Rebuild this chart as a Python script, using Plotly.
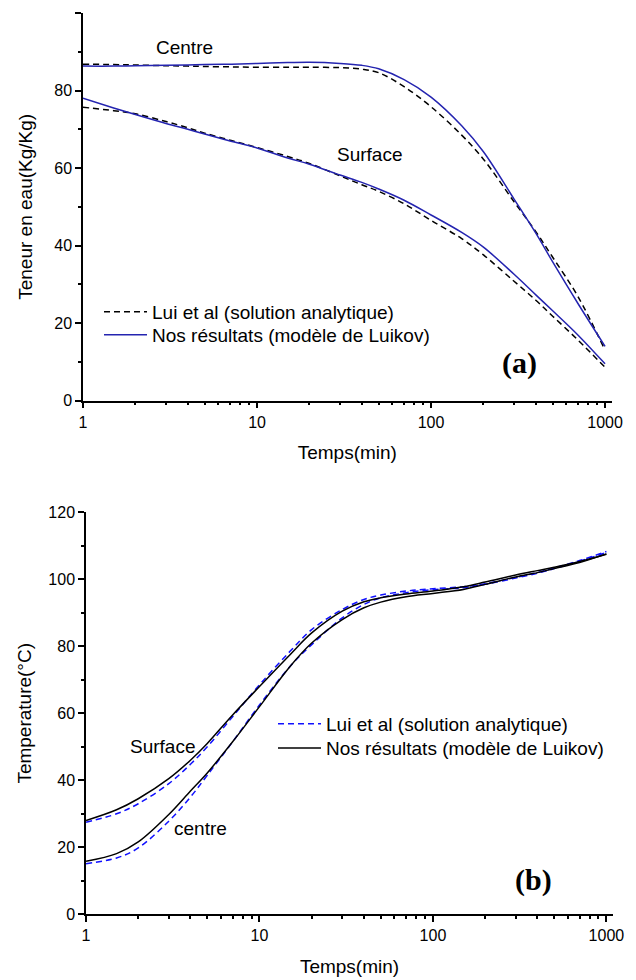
import plotly.graph_objects as go

# ---------------- data ----------------
time_min = [1, 1.5, 2, 3, 4, 5, 7, 10, 15, 20, 30, 40, 50, 70, 100, 150, 200, 300, 400, 500, 700, 1000]

# (a) moisture content (Kg/Kg)
a_centre_lui = [86.8, 86.7, 86.6, 86.4, 86.3, 86.2, 86.1, 86.0, 86.0, 86.0, 85.9, 85.5, 84.6, 81.0, 75.8, 68.5, 62.3, 51.3, 43.6, 37.0, 26.8, 13.0]
a_centre_nos = [86.3, 86.3, 86.4, 86.5, 86.6, 86.7, 86.8, 87.0, 87.2, 87.3, 87.0, 86.5, 85.6, 82.8, 78.3, 70.9, 64.2, 52.0, 43.2, 35.8, 25.0, 14.0]
a_surface_lui = [75.7, 74.8, 74.0, 72.0, 70.4, 69.0, 67.2, 65.3, 63.0, 61.2, 58.0, 55.7, 54.0, 50.8, 46.5, 41.8, 37.6, 30.8, 25.9, 21.8, 15.6, 8.6]
a_surface_nos = [78.0, 75.5, 73.8, 71.5, 70.0, 68.8, 67.0, 65.2, 62.6, 61.0, 58.2, 56.3, 54.6, 51.7, 47.9, 43.4, 39.6, 32.6, 27.3, 23.2, 16.9, 9.5]

# (b) temperature (°C)
b_surface_lui = [27.5, 30.0, 33.0, 39.0, 44.8, 50.0, 59.0, 68.5, 78.5, 85.0, 91.0, 94.0, 95.3, 96.5, 97.2, 97.8, 98.7, 100.6, 102.0, 103.4, 105.6, 108.3]
b_surface_nos = [28.0, 31.2, 34.5, 40.5, 46.0, 51.0, 59.5, 68.0, 77.5, 84.0, 90.5, 93.3, 94.5, 95.6, 96.5, 97.8, 99.2, 101.3, 102.6, 103.6, 105.3, 107.5]
b_centre_lui = [15.1, 16.8, 19.8, 27.8, 35.0, 41.5, 51.5, 62.5, 74.0, 80.5, 88.5, 92.5, 94.5, 96.0, 96.9, 97.5, 98.5, 100.4, 101.8, 103.2, 105.4, 108.0]
b_centre_nos = [15.8, 18.1, 21.6, 29.8, 36.8, 42.2, 51.5, 62.0, 74.0, 81.0, 88.0, 91.5, 93.2, 94.8, 95.8, 97.0, 98.5, 100.7, 102.0, 103.2, 105.0, 107.6]

name_lui = "Lui et al (solution analytique)"
name_nos = "Nos résultats (modèle de Luikov)"

x_title = "Temps(min)"
ya_title = "Teneur en eau(Kg/Kg)"
yb_title = "Temperature(°C)"

# ---------------- figure ----------------
FONT = "Arial, Liberation Sans, sans-serif"
SERIF = "Times New Roman, Liberation Serif, serif"
BLACK = "#000000"
BLUE_A = "#2424b0"
BLUE_B = "#1010ff"
DASH = "6px,4px"
TXT = 19
TICK = 16
SM = 1.0

fig = go.Figure()

def line(color, dash=None):
    d = dict(color=color, width=1.5, shape="spline", smoothing=SM)
    if dash:
        d["dash"] = dash
    return d

# (a)
fig.add_trace(go.Scatter(x=time_min, y=a_centre_lui, mode="lines", name=name_lui, line=line(BLACK, DASH),
                         xaxis="x", yaxis="y", legend="legend", legendgroup="a1"))
fig.add_trace(go.Scatter(x=time_min, y=a_surface_lui, mode="lines", name=name_lui, showlegend=False,
                         line=line(BLACK, DASH), xaxis="x", yaxis="y", legend="legend", legendgroup="a1"))
fig.add_trace(go.Scatter(x=time_min, y=a_centre_nos, mode="lines", name=name_nos, line=line(BLUE_A),
                         xaxis="x", yaxis="y", legend="legend3", legendgroup="a2"))
fig.add_trace(go.Scatter(x=time_min, y=a_surface_nos, mode="lines", name=name_nos, showlegend=False,
                         line=line(BLUE_A), xaxis="x", yaxis="y", legend="legend3", legendgroup="a2"))

# (b)
fig.add_trace(go.Scatter(x=time_min, y=b_surface_lui, mode="lines", name=name_lui, line=line(BLUE_B, DASH),
                         xaxis="x2", yaxis="y2", legend="legend2", legendgroup="b1"))
fig.add_trace(go.Scatter(x=time_min, y=b_centre_lui, mode="lines", name=name_lui, showlegend=False,
                         line=line(BLUE_B, DASH), xaxis="x2", yaxis="y2", legend="legend2", legendgroup="b1"))
fig.add_trace(go.Scatter(x=time_min, y=b_surface_nos, mode="lines", name=name_nos, line=line(BLACK),
                         xaxis="x2", yaxis="y2", legend="legend4", legendgroup="b2"))
fig.add_trace(go.Scatter(x=time_min, y=b_centre_nos, mode="lines", name=name_nos, showlegend=False,
                         line=line(BLACK), xaxis="x2", yaxis="y2", legend="legend4", legendgroup="b2"))

minor_x = [2, 3, 4, 5, 6, 7, 8, 9, 20, 30, 40, 50, 60, 70, 80, 90, 200, 300, 400, 500, 600, 700, 800, 900]

def xaxis_cfg(domain, anchor):
    return dict(type="log", domain=domain, anchor=anchor, range=[0, 3.038], automargin=False,
                tickvals=[1, 10, 100, 1000], ticktext=["1", "10", "100", "1000"],
                ticks="outside", ticklen=6, tickwidth=1.5, tickcolor=BLACK,
                minor=dict(tickvals=minor_x, ticks="outside", ticklen=3, tickwidth=1.5, tickcolor=BLACK, showgrid=False),
                showline=True, linecolor=BLACK, linewidth=1.5, showgrid=False, zeroline=False,
                tickfont=dict(size=TICK, color=BLACK, family=FONT),
                title=dict(text=x_title, font=dict(size=TXT, color=BLACK, family=FONT), standoff=16))

def yaxis_cfg(domain, anchor, rng, title, standoff):
    return dict(domain=domain, anchor=anchor, range=rng, dtick=20, tick0=0, automargin=False,
                ticks="outside", ticklen=6, tickwidth=1.5, tickcolor=BLACK,
                minor=dict(dtick=10, ticks="outside", ticklen=3, tickwidth=1.5, tickcolor=BLACK, showgrid=False),
                showline=True, linecolor=BLACK, linewidth=1.5, showgrid=False, zeroline=False,
                tickfont=dict(size=TICK, color=BLACK, family=FONT),
                title=dict(text=title, font=dict(size=TXT, color=BLACK, family=FONT), standoff=standoff))

legend_common = dict(xanchor="left", yanchor="middle", bgcolor="rgba(0,0,0,0)",
                     font=dict(size=TXT, family=FONT, color=BLACK), tracegroupgap=0, itemwidth=43)

fig.update_layout(
    width=628, height=972,
    margin=dict(l=75, r=23, t=5, b=65),
    paper_bgcolor="white", plot_bgcolor="white",
    font=dict(family=FONT, size=TXT, color=BLACK),
    xaxis=xaxis_cfg([0, 0.9975], "y"),
    yaxis=yaxis_cfg([0.5702, 1.0], "x", [0, 100], ya_title, 17),
    xaxis2=xaxis_cfg([0.0057, 1.0], "y2"),
    yaxis2=yaxis_cfg([0.0008, 0.4464], "x2", [0, 120], yb_title, 12),
    legend=dict(x=0.0302, y=0.6685, **legend_common),
    legend3=dict(x=0.0302, y=0.6430, **legend_common),
    legend2=dict(x=0.3585, y=0.2118, **legend_common),
    legend4=dict(x=0.3585, y=0.1851, **legend_common),
    showlegend=True,
)

annots = [
    dict(text="Centre", x=0.586, y=91, xref="x", yref="y", font=dict(size=TXT, family=FONT)),
    dict(text="Surface", x=1.649, y=63.4, xref="x", yref="y", font=dict(size=TXT, family=FONT)),
    dict(text="<b>(a)</b>", x=2.511, y=9.7, xref="x", yref="y", font=dict(size=30, family=SERIF)),
    dict(text="Surface", x=0.439, y=50.2, xref="x2", yref="y2", font=dict(size=TXT, family=FONT)),
    dict(text="centre", x=0.659, y=25.6, xref="x2", yref="y2", font=dict(size=TXT, family=FONT)),
    dict(text="<b>(b)</b>", x=2.578, y=10.2, xref="x2", yref="y2", font=dict(size=30, family=SERIF)),
]
for a in annots:
    a.update(showarrow=False, xanchor="center", yanchor="middle")
    a["font"]["color"] = BLACK
fig.update_layout(annotations=annots)

fig.write_html("out.html")
